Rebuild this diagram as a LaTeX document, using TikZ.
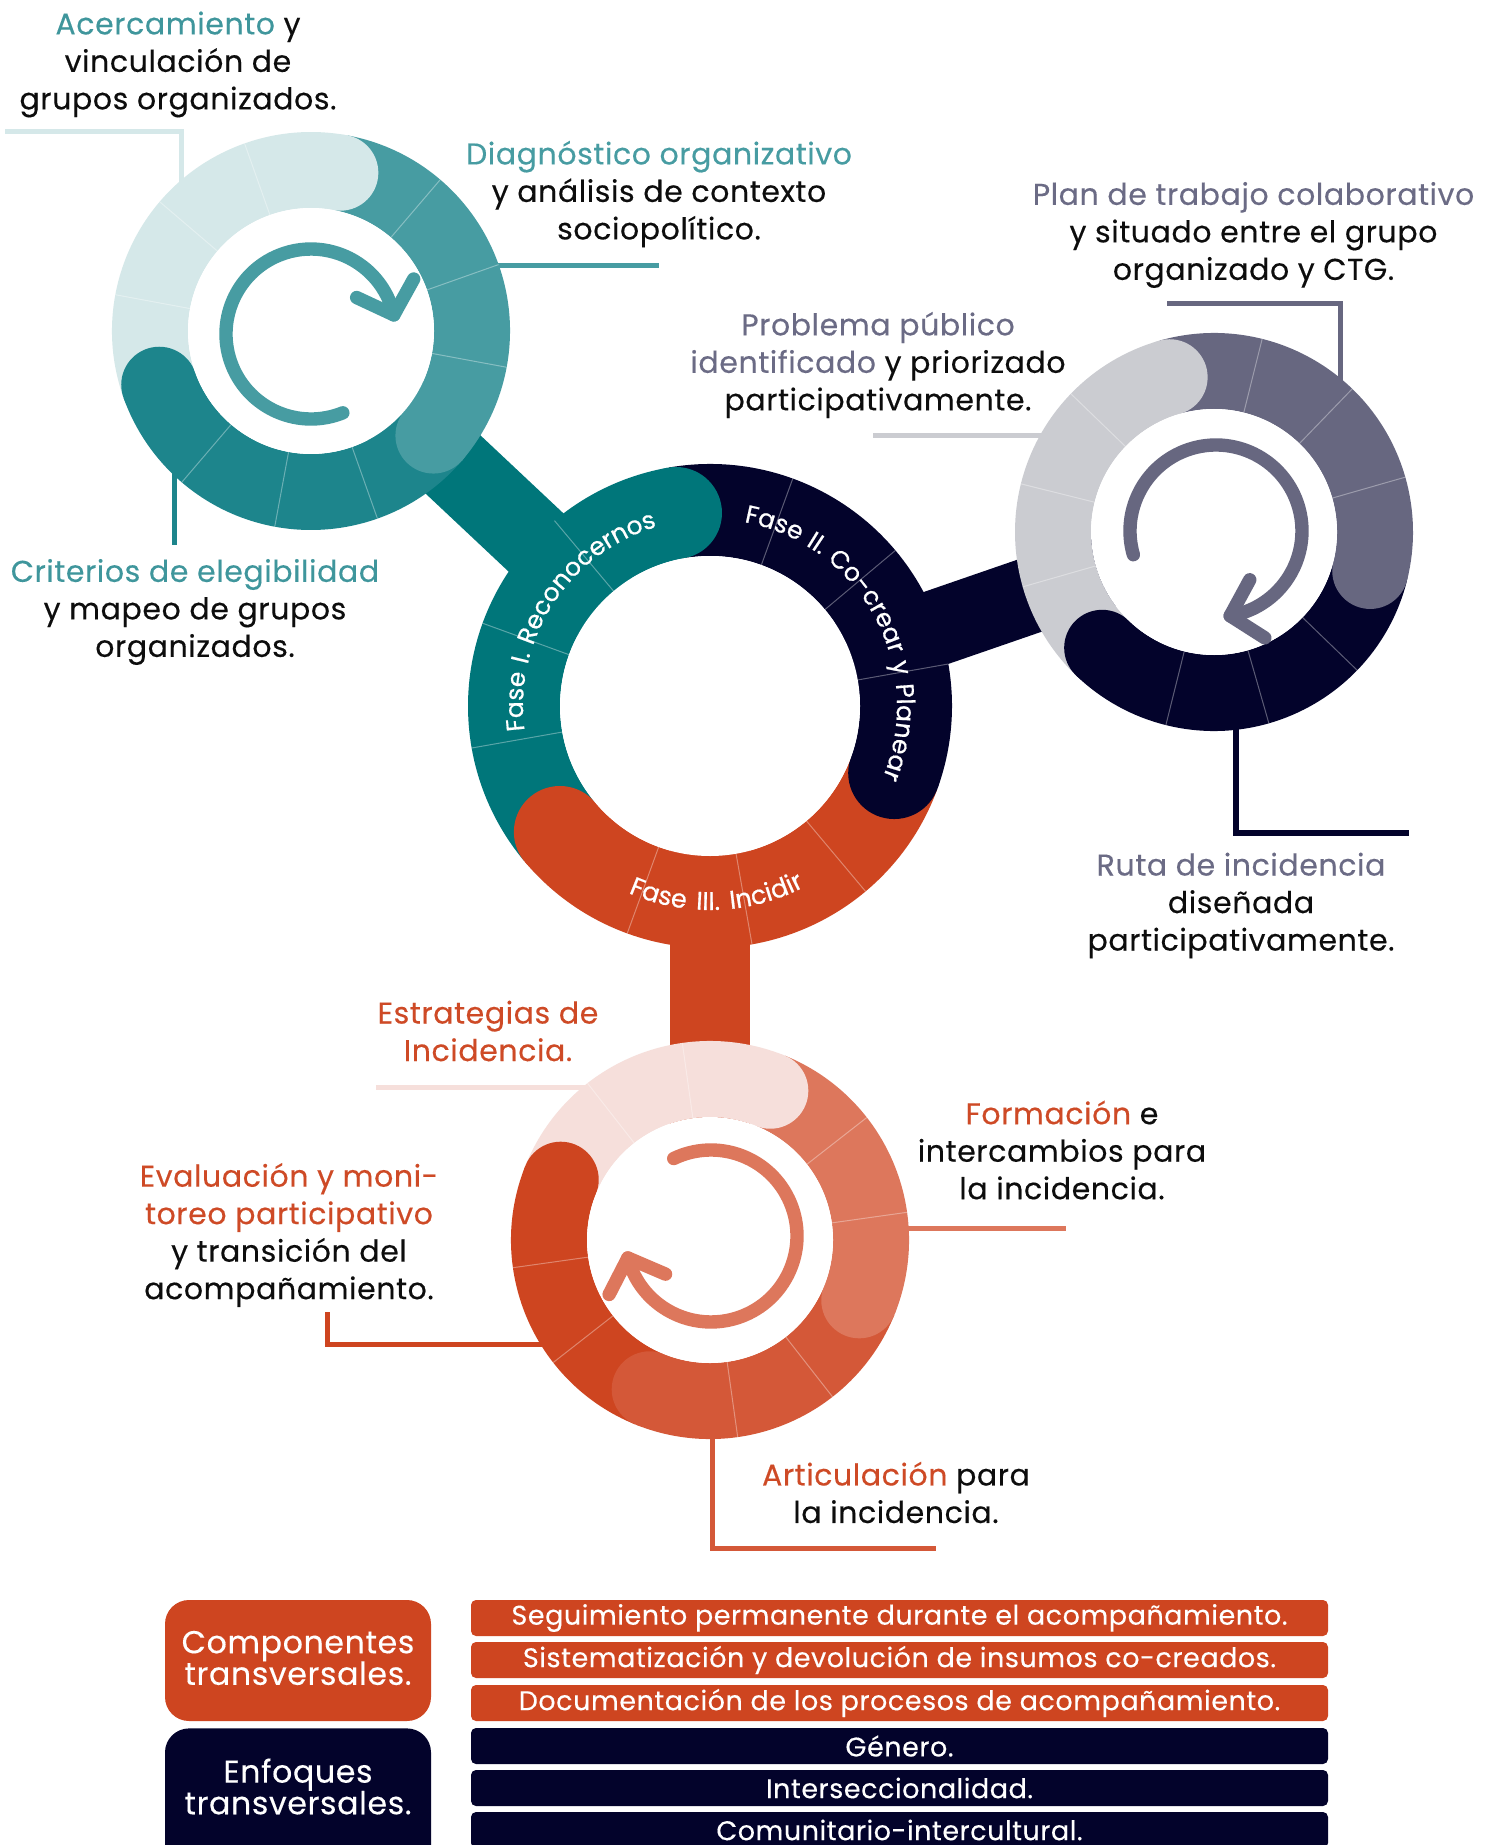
\documentclass[tikz,border=0pt]{standalone}
\usepackage{fontspec}
\setmainfont{Poppins}[FakeBold=0.3,LetterSpace=2]
\newfontfamily\fasefam{Poppins}[FakeBold=0.6,LetterSpace=6]
\newfontfamily\fasefamw{Poppins}[FakeBold=0.6,LetterSpace=14]
\usetikzlibrary{calc,decorations.text}
\definecolor{tealL}{HTML}{D5E8E9}
\definecolor{tealM}{HTML}{479CA2}
\definecolor{tealD}{HTML}{1D858C}
\definecolor{tealB}{HTML}{00767A}
\definecolor{tealT}{HTML}{3F969C}
\definecolor{navy}{HTML}{03032B}
\definecolor{grayM}{HTML}{676780}
\definecolor{grayL}{HTML}{CBCCD1}
\definecolor{grayT}{HTML}{6B6B85}
\definecolor{orgD}{HTML}{CE4520}
\definecolor{orgM}{HTML}{D45838}
\definecolor{orgS}{HTML}{DD775C}
\definecolor{orgL}{HTML}{F6DFDB}
\definecolor{orgT}{HTML}{CE4A26}
\definecolor{ink}{HTML}{0D0D0D}
% center, radius, width, color, start, end
\newcommand\myarc[6]{\draw[line width=#3,draw=#4] ($(#1)+(#5:#2)$) arc[start angle=#5,end angle=#6,radius=#2];}
% center, midradius, angle, capradius, color
\newcommand\mycap[5]{\fill[#5] ($(#1)+(#3:#2)$) circle[radius=#4];}
% center, offset, rin, rout
\newcommand\mysegs[4]{\foreach \a in {0,30,...,330}{\draw[segl] ($(#1)+({\a+#2}:#3)$) -- ($(#1)+({\a+#2}:#4)$);}}
\newcommand\fasefont{\fasefam\fontsize{12.5}{13}\selectfont}
\newcommand\fasefontw{\fasefamw\fontsize{12.8}{13}\selectfont}
\begin{document}
\begin{tikzpicture}[x=0.5pt,y=0.5pt,
 lbl/.style={align=center,inner sep=0pt,text=ink,font=\fontsize{15}{18.75}\selectfont},
 lead/.style={line width=2.5pt},
 segl/.style={draw=white,opacity=0.35,line width=0.5pt},
 arrowline/.style={line width=6.7pt,line cap=round,line join=round},
 tbar/.style={fill=#1,rounded corners=2.5pt,minimum width=428.5pt,minimum height=18pt,inner sep=0pt,text=white,font=\fontsize{13.5}{14}\selectfont},
 bigbox/.style={fill=#1,rounded corners=12pt,minimum width=133pt,inner sep=0pt},
 bigtxt/.style={align=center,text=white,inner sep=0pt,font=\fontsize{15.8}{15.8}\selectfont}]
\useasboundingbox (0,0) rectangle (1493,-1845);
\clip (0,0) rectangle (1493,-1845);
\fill[white] (0,0) rectangle (1493,-1845);

\coordinate (cTL) at (311,-331);
\coordinate (cC) at (710,-706);
\coordinate (cR) at (1214,-532);
\coordinate (cB) at (710,-1240);

% leaders
\coordinate (l1a) at (5,-132); \coordinate (l1b) at (181,-132); \coordinate (l1c) at (181,-200);
\draw[lead,tealL] (l1a) -- (l1b) -- (l1c);
\coordinate (l2a) at (480,-265.5); \coordinate (l2b) at (659,-265.5);
\draw[lead,tealM] (l2a) -- (l2b);
\coordinate (l3a) at (1167,-303.5); \coordinate (l3b) at (1340,-303.5); \coordinate (l3c) at (1340,-400);
\draw[lead,grayM] (l3a) -- (l3b) -- (l3c);
\coordinate (l4a) at (873,-436); \coordinate (l4b) at (1050,-436);
\draw[lead,grayL] (l4a) -- (l4b);
\coordinate (l5a) at (174.5,-460); \coordinate (l5b) at (174.5,-545);
\draw[lead,tealD] (l5a) -- (l5b);
\coordinate (l6a) at (1236,-720); \coordinate (l6b) at (1236,-833); \coordinate (l6c) at (1409,-833);
\draw[lead,navy,line width=3pt] (l6a) -- (l6b) -- (l6c);
\coordinate (l7a) at (376,-1087.5); \coordinate (l7b) at (600,-1087.5);
\draw[lead,orgL] (l7a) -- (l7b);
\coordinate (l8a) at (850,-1228); \coordinate (l8b) at (1066,-1228);
\draw[lead,orgS] (l8a) -- (l8b);
\coordinate (l9a) at (327,-1312); \coordinate (l9b) at (327,-1344.5); \coordinate (l9c) at (560,-1344.5);
\draw[lead,orgD] (l9a) -- (l9b) -- (l9c);
\coordinate (l10a) at (712,-1430); \coordinate (l10b) at (712,-1548); \coordinate (l10c) at (936,-1548);
\draw[lead,orgM] (l10a) -- (l10b) -- (l10c);

% bands
\draw[line width=40pt,tealB] (cTL) -- (cC);
\draw[line width=38pt,navy] (cC) -- (cR);
\draw[line width=40pt,orgD] (cC) -- (cB);

% top-left ring
\myarc{cTL}{161}{38pt}{tealL}{199.5}{79.5}
\myarc{cTL}{161}{38pt}{tealM}{79.5}{-40.5}
\myarc{cTL}{161}{38pt}{tealD}{-40.5}{-160.5}
\mysegs{cTL}{19.5}{123}{199}
\mycap{cTL}{161}{79.5}{38}{tealL}
\mycap{cTL}{161}{-40.5}{38}{tealM}
\mycap{cTL}{161}{199.5}{38}{tealD}
\fill[white] (cTL) circle[radius=123];

% right ring
\myarc{cR}{161}{38pt}{grayL}{226}{106}
\myarc{cR}{161}{38pt}{grayM}{106}{-14}
\myarc{cR}{161}{38pt}{navy}{-14}{-134}
\mysegs{cR}{16}{123}{199}
\mycap{cR}{161}{106}{38}{grayL}
\mycap{cR}{161}{-14}{38}{grayM}
\mycap{cR}{161}{226}{38}{navy}
\fill[white] (cR) circle[radius=123];

% bottom ring
\myarc{cB}{161}{38pt}{orgL}{158}{68}
\myarc{cB}{161}{38pt}{orgS}{68}{-22}
\myarc{cB}{161}{38pt}{orgM}{-22}{-112}
\myarc{cB}{161}{38pt}{orgD}{-112}{-202}
\mysegs{cB}{8}{123}{199}
\mycap{cB}{161}{68}{38}{orgL}
\mycap{cB}{161}{-22}{38}{orgS}
\mycap{cB}{161}{-112}{38}{orgM}
\mycap{cB}{161}{158}{38}{orgD}
\fill[white] (cB) circle[radius=123];

% center ring
\myarc{cC}{196}{46pt}{tealB}{220}{100}
\myarc{cC}{196}{46pt}{navy}{100}{-20}
\myarc{cC}{196}{46pt}{orgD}{-20}{-140}
\mysegs{cC}{10}{150}{242}
\mycap{cC}{196}{100}{46}{tealB}
\mycap{cC}{196}{-20}{46}{navy}
\mycap{cC}{196}{220}{46}{orgD}
\fill[white] (cC) circle[radius=150];

% arrows
\coordinate (aTL) at (311,-334);
\draw[arrowline,tealM] ($(aTL)+(-68:85)$) arc[start angle=-68,end angle=-347,radius=85] coordinate (tipTL);
\draw[arrowline,tealM] ($(tipTL)+(-205:41)$) -- (tipTL) -- ($(tipTL)+(-299:41)$);
\coordinate (aR) at (1216,-531);
\draw[arrowline,grayM] ($(aR)+(196:86)$) arc[start angle=196,end angle=-80.5,radius=86] coordinate (tipR);
\draw[arrowline,grayM] ($(tipR)+(61.5:41)$) -- (tipR) -- ($(tipR)+(-32.5:41)$);
\coordinate (aB) at (711,-1236);
\draw[arrowline,orgS] ($(aB)+(115.7:86)$) arc[start angle=115.7,end angle=-165.2,radius=86] coordinate (tipB);
\draw[arrowline,orgS] ($(tipB)+(-23.2:41)$) -- (tipB) -- ($(tipB)+(-117.2:41)$);

% phase labels
\path[decorate,decoration={text along path,text={|\fasefont|Fase I. Reconocernos},text align=center,text color=white}]
  ($(cC)+(215:187)$) arc[start angle=215,end angle=79,radius=187];
\path[decorate,decoration={text along path,text={|\fasefont|Fase II. Co-crear y Planear},text align=center,text color=white}]
  ($(cC)+(100:187)$) arc[start angle=100,end angle=-43,radius=187];
\path[decorate,decoration={text along path,text={|\fasefontw|Fase III. Incidir},text align=center,text color=white}]
  ($(cC)+(215:204)$) arc[start angle=215,end angle=329,radius=204];

% texts
\node[lbl] (t1) at (178,-64.5) {\textcolor{tealT}{Acercamiento} y\\vinculación de\\grupos organizados.};
\node[lbl] (t2) at (659,-194) {\textcolor{tealM}{Diagnóstico organizativo}\\y análisis de contexto\\sociopolítico.};
\node[lbl] (t3) at (1253.5,-235) {\textcolor{grayT}{Plan de trabajo colaborativo}\\y situado entre el grupo\\organizado y CTG.};
\node[lbl] (t4) at (878,-365) {\textcolor{grayT}{Problema público}\\\textcolor{grayT}{identificado} y priorizado\\participativamente.};
\node[lbl] (t5) at (195,-612) {\textcolor{tealT}{Criterios de elegibilidad}\\y mapeo de grupos\\organizados.};
\node[lbl] (t6) at (1241,-905.5) {\textcolor{grayT}{Ruta de incidencia}\\diseñada\\participativamente.};
\node[lbl,text=orgT] (t7) at (488,-1031) {Estrategias de\\Incidencia.};
\node[lbl] (t8) at (1062,-1150) {\textcolor{orgT}{Formación} e\\intercambios para\\la incidencia.};
\node[lbl] (t9) at (289,-1235) {\textcolor{orgT}{Evaluación y moni-}\\\textcolor{orgT}{toreo participativo}\\y transición del\\acompañamiento.};
\node[lbl] (t10) at (896,-1492.5) {\textcolor{orgT}{Articulación} para\\la incidencia.};

% bottom boxes
\node[bigbox=orgD,minimum height=60.5pt] (comp) at (298,-1660.5) {};
\node[bigtxt] (compt) at (298,-1658) {Componentes\\transversales.};
\node[bigbox=navy,minimum height=71pt,anchor=north] (enf) at (298,-1728) {};
\node[bigtxt] (enft) at (298,-1786.5) {Enfoques\\transversales.};
\node[tbar=orgD] (b1) at (899.5,-1618) {Seguimiento permanente durante el acompañamiento.};
\node[tbar=orgD] (b2) at (899.5,-1660) {Sistematización y devolución de insumos co-creados.};
\node[tbar=orgD] (b3) at (899.5,-1703) {Documentación de los procesos de acompañamiento.};
\node[tbar=navy] (b4) at (899.5,-1746) {Género.};
\node[tbar=navy] (b5) at (899.5,-1788) {Interseccionalidad.};
\node[tbar=navy] (b6) at (899.5,-1830) {Comunitario-intercultural.};
\end{tikzpicture}
\end{document}
